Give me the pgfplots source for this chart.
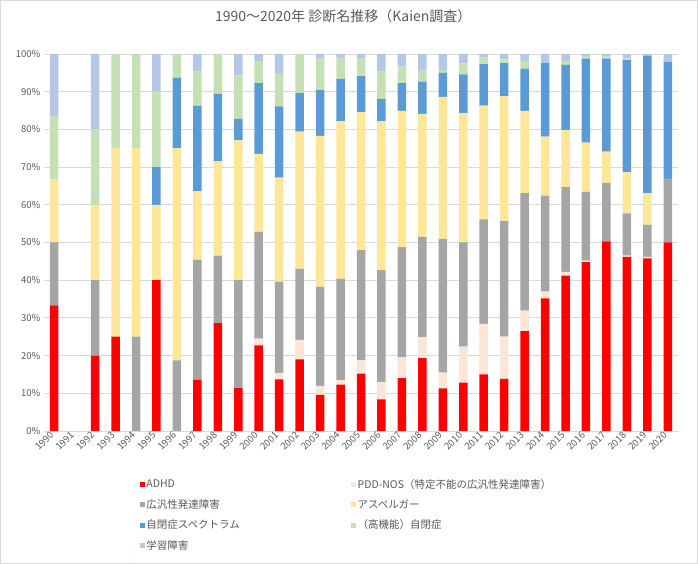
\documentclass[border=0pt]{standalone}
\usepackage{fontspec}
\setmainfont{Noto Sans CJK JP}
\usepackage{pgfplots}
\usepackage{pgfplotstable}
\pgfplotsset{compat=1.18}
\definecolor{cadhd}{HTML}{FF0000}
\definecolor{cpdd}{HTML}{FBE5D6}
\definecolor{cpdds}{HTML}{A5A5A5}
\definecolor{casp}{HTML}{FFE699}
\definecolor{casd}{HTML}{5B9BD5}
\definecolor{chfa}{HTML}{C5E0B4}
\definecolor{cld}{HTML}{B4C7E7}
\definecolor{txt}{HTML}{595959}
\definecolor{gridc}{HTML}{D9D9D9}

% share of each diagnosis per year, in percent
\pgfplotstableread{
year adhd pdd pdds asp asd hfa ld
1990 33.3 0   16.7 16.7 0    16.7 16.6
1991 0    0   0    0    0    0    0
1992 20   0   20   20   0    20   20
1993 25   0   0    50   0    25   0
1994 0    0   25   50   0    25   0
1995 40   0   0    20   10   20   10
1996 0    0   18.75 56.25 18.75 6.25 0
1997 13.6 0   31.8 18.2 22.7 9.1  4.6
1998 28.6 0   17.9 25.0 17.9 10.6 0
1999 11.4 0   28.6 37.1 5.7  11.5 5.7
2000 22.7 1.8 28.3 20.7 18.8 5.8  1.9
2001 13.7 1.7 24.2 27.6 18.9 8.8  5.1
2002 19.0 5.2 18.8 36.4 10.2 10.4 0
2003 9.6  2.4 26.2 40.1 12.1 8.4  1.2
2004 12.3 1.2 26.9 41.7 11.3 5.4  1.2
2005 15.2 3.5 29.3 36.6 9.5  4.7  1.2
2006 8.4  4.6 29.7 39.4 6.0  7.3  4.6
2007 14.0 5.5 29.3 36.1 7.4  4.4  3.3
2008 19.3 5.6 26.6 32.6 8.6  3.1  4.2
2009 11.3 4.2 35.4 37.7 6.4  0.8  4.2
2010 12.8 9.6 27.6 34.3 10.3 2.9  2.5
2011 15.0 13.4 27.7 30.2 11.0 1.8 0.9
2012 13.8 11.2 30.7 33.1 8.8 1.0  1.4
2013 26.5 5.4 31.2 21.8 11.2 2.1  1.8
2014 35.2 1.8 25.4 15.7 19.5 0    2.4
2015 41.2 1.0 22.5 15.2 17.2 1.1  1.8
2016 44.8 0.4 18.2 13.1 22.3 0.7  0.5
2017 50.3 0   15.5 8.3  24.7 0.5  0.7
2018 46.2 0.3 11.2 10.9 29.8 0.4  1.2
2019 45.8 0.4 8.5  8.4  36.5 0    0.4
2020 50.0 0   16.7 0    31.2 0    2.1
}\diag

\begin{document}
\begin{tikzpicture}
\useasboundingbox (0,0) rectangle (698pt,564pt);
\draw[gridc] (0.5pt,0.5pt) rectangle (697.5pt,563.5pt);
\begin{axis}[
  at={(44pt,133pt)}, anchor=south west,
  scale only axis, width=634pt, height=377pt,
  ybar stacked, bar width=8.5pt,
  xmin=1989.5, xmax=2020.5, ymin=0, ymax=100,
  xtick=data,
  xticklabel style={rotate=45, anchor=east, font=\fontsize{9.5}{10}\selectfont, text=txt},
  x tick label style={/pgf/number format/1000 sep={}},
  ytick={0,10,...,100},
  yticklabel={\pgfmathprintnumber{\tick}\%},
  yticklabel style={font=\fontsize{9.5}{10}\selectfont, text=txt},
  /pgf/number format/assume math mode=true,
  major tick length=0pt,
  ymajorgrids, grid style={gridc, line width=0.8pt},
  axis line style={draw=none},
  title={1990～2020年 診断名推移（Kaien調査）},
  title style={at={(0.472,1)}, anchor=center, yshift=32pt, font=\fontsize{14}{16}\selectfont, text=txt},
  legend columns=2,
  legend style={at={(0.146,-0.118)}, anchor=north west, draw=none, fill=none,
    font=\fontsize{10.5}{12}\selectfont, text=txt,
    nodes={text width=203pt, anchor=west, inner sep=1.5pt},
    row sep=7pt},
  legend image code/.code={\fill[#1] (0pt,-2.6pt) rectangle (5.2pt,2.6pt);},
]
\addplot[fill=cadhd, draw=none] table[x=year, y=adhd] {\diag};
\addplot[fill=cpdd, draw=none] table[x=year, y=pdd] {\diag};
\addplot[fill=cpdds, draw=none] table[x=year, y=pdds] {\diag};
\addplot[fill=casp, draw=none] table[x=year, y=asp] {\diag};
\addplot[fill=casd, draw=none] table[x=year, y=asd] {\diag};
\addplot[fill=chfa, draw=none] table[x=year, y=hfa] {\diag};
\addplot[fill=cld, draw=none] table[x=year, y=ld] {\diag};
\legend{ADHD, PDD-NOS（特定不能の広汎性発達障害）, 広汎性発達障害, アスペルガー, 自閉症スペクトラム, （高機能）自閉症, 学習障害}
\end{axis}
\end{tikzpicture}
\end{document}
